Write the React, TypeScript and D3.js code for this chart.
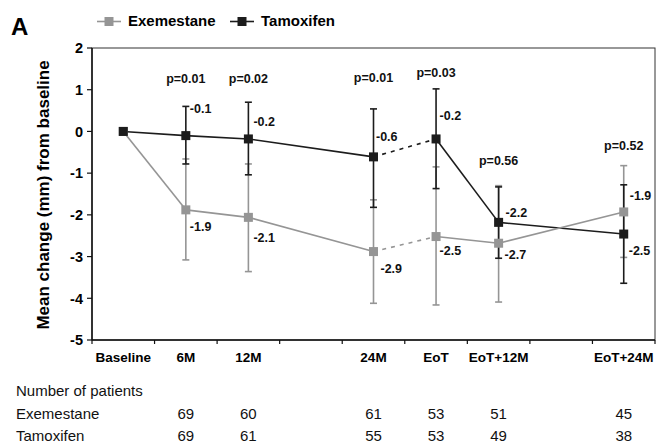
import React, { useRef, useEffect } from 'react';
import * as d3 from 'd3';

// x slots: two empty slots keep the uneven spacing of the original axis
const slots = ['Baseline', '6M', '12M', 'gap1', '24M', 'EoT', 'EoT+12M', 'gap2', 'EoT+24M'];
const timepoints = ['Baseline', '6M', '12M', '24M', 'EoT', 'EoT+12M', 'EoT+24M'];

const exemestaneMean = [0, -1.88, -2.06, -2.88, -2.52, -2.68, -1.93];
const exemestaneUpper = [null, -0.66, -0.78, -1.64, -0.85, -1.3, -0.82];
const exemestaneLower = [null, -3.08, -3.36, -4.12, -4.16, -4.09, -3.02];

const tamoxifenMean = [0, -0.1, -0.18, -0.61, -0.18, -2.18, -2.46];
const tamoxifenUpper = [null, 0.6, 0.7, 0.54, 1.02, -1.33, -1.28];
const tamoxifenLower = [null, -0.78, -1.04, -1.82, -1.37, -3.04, -3.64];

const pValues = ['', 'p=0.01', 'p=0.02', 'p=0.01', 'p=0.03', 'p=0.56', 'p=0.52'];

const yTicks = [2, 1, 0, -1, -2, -3, -4, -5];

// number of patients from 6M on
const countTimepoints = ['6M', '12M', '24M', 'EoT', 'EoT+12M', 'EoT+24M'];
const exemestaneN = [69, 60, 61, 53, 51, 45];
const tamoxifenN = [69, 61, 55, 53, 49, 38];

// label placement (px offsets from the marker), index matches timepoints
const exeLabelOffset = [null, [4, 21.5], [5, 24.5], [7, 21], [3.5, 18], [6, 16], [6, -12]];
const tamLabelOffset = [null, [4, -23], [5, -13], [2.5, -16], [3.5, -19], [7, -5], [5, 21]];
const pLabelDy = [0, -23, -19.5, -27, -12, -20.5, -15.5];

const GREY = '#959595';
const BLACK = '#1c1c1c';
const FONT = '"Liberation Sans", Arial, Helvetica, sans-serif';

const App = () => {
    const svgRef = useRef(null);
    const width = 657;
    const height = 442;

    useEffect(() => {
        const svg = d3.select(svgRef.current);
        svg.selectAll('*').remove();
        svg.style('font-family', FONT);

        const left = 92, right = 655, top = 48, bottom = 340;

        const x = d3.scaleBand().domain(slots).range([left, right]).padding(0);
        const cx = d => x(d) + x.bandwidth() / 2;
        const y = d3.scaleLinear().domain([-5, 2]).range([bottom, top]);

        // frame
        svg.append('rect')
            .attr('x', left).attr('y', top)
            .attr('width', right - left).attr('height', bottom - top)
            .attr('fill', 'none').attr('stroke', '#333').attr('stroke-width', 1);
        svg.append('line')
            .attr('x1', left).attr('x2', left).attr('y1', top).attr('y2', bottom)
            .attr('stroke', '#111').attr('stroke-width', 1.5);
        svg.append('line')
            .attr('x1', left).attr('x2', right).attr('y1', bottom).attr('y2', bottom)
            .attr('stroke', '#111').attr('stroke-width', 1.5);

        // y axis ticks + labels
        const yAxis = svg.append('g');
        yAxis.selectAll('line').data(yTicks).enter().append('line')
            .attr('x1', left - 5).attr('x2', left)
            .attr('y1', d => y(d)).attr('y2', d => y(d))
            .attr('stroke', '#111').attr('stroke-width', 1.2);
        yAxis.selectAll('text').data(yTicks).enter().append('text')
            .attr('x', left - 9).attr('y', d => y(d)).attr('dy', '0.36em')
            .attr('text-anchor', 'end')
            .style('font-size', '14.5px').style('font-weight', 'bold')
            .text(d => String(d));

        svg.append('text')
            .attr('transform', `translate(49,195) rotate(-90)`)
            .attr('text-anchor', 'middle')
            .style('font-size', '17px').style('font-weight', 'bold')
            .text('Mean change (mm) from baseline');

        // x axis ticks at slot boundaries
        const bounds = slots.map(s => x(s)).concat([right]);
        svg.append('g').selectAll('line').data(bounds).enter().append('line')
            .attr('x1', d => d).attr('x2', d => d)
            .attr('y1', bottom).attr('y2', bottom + 4)
            .attr('stroke', '#111').attr('stroke-width', 1.2);
        svg.append('g').selectAll('text').data(timepoints).enter().append('text')
            .attr('x', d => cx(d)).attr('y', 362)
            .attr('text-anchor', 'middle')
            .style('font-size', '13.5px').style('font-weight', 'bold')
            .text(d => d);

        const makeRows = (mean, upper, lower) => timepoints.map((t, i) => ({
            t, i, mean: mean[i], upper: upper[i], lower: lower[i]
        }));
        const exe = makeRows(exemestaneMean, exemestaneUpper, exemestaneLower);
        const tam = makeRows(tamoxifenMean, tamoxifenUpper, tamoxifenLower);

        // error bars: grey first, black on top
        const drawBars = (rows, color) => {
            const g = svg.append('g').attr('stroke', color).attr('stroke-width', 1.6);
            rows.filter(d => d.upper !== null).forEach(d => {
                const px = cx(d.t);
                g.append('line').attr('x1', px).attr('x2', px)
                    .attr('y1', y(d.upper)).attr('y2', y(d.lower));
                g.append('line').attr('x1', px - 3.5).attr('x2', px + 3.5)
                    .attr('y1', y(d.upper)).attr('y2', y(d.upper));
                g.append('line').attr('x1', px - 3.5).attr('x2', px + 3.5)
                    .attr('y1', y(d.lower)).attr('y2', y(d.lower));
            });
        };
        drawBars(exe, GREY);
        drawBars(tam, BLACK);

        // lines: 24M -> EoT is dashed
        const drawLines = (rows, color) => {
            const g = svg.append('g');
            for (let i = 1; i < rows.length; i++) {
                const a = rows[i - 1], b = rows[i];
                const dashed = a.t === '24M' && b.t === 'EoT';
                g.append('line')
                    .attr('x1', cx(a.t)).attr('y1', y(a.mean))
                    .attr('x2', cx(b.t)).attr('y2', y(b.mean))
                    .attr('stroke', color).attr('stroke-width', 1.6)
                    .attr('stroke-dasharray', dashed ? '4,5' : null);
            }
        };
        drawLines(tam, BLACK);
        drawLines(exe, GREY);

        const drawMarkers = (rows, color) => {
            svg.append('g').selectAll('rect').data(rows).enter().append('rect')
                .attr('x', d => cx(d.t) - 4.5).attr('y', d => y(d.mean) - 4.5)
                .attr('width', 9).attr('height', 9)
                .attr('fill', color);
        };
        drawMarkers(exe, GREY);
        drawMarkers(tam, BLACK);

        // value labels (plain hyphen as in the original)
        const fmt = v => v.toFixed(1);
        const drawLabels = (rows, offsets) => {
            svg.append('g').selectAll('text').data(rows.filter(d => offsets[d.i])).enter().append('text')
                .attr('x', d => cx(d.t) + offsets[d.i][0])
                .attr('y', d => y(d.mean) + offsets[d.i][1])
                .style('font-size', '12.5px').style('font-weight', 'bold')
                .attr('fill', '#111')
                .text(d => fmt(d.mean));
        };
        drawLabels(exe, exeLabelOffset);
        drawLabels(tam, tamLabelOffset);

        // p values above the higher error bar
        svg.append('g').selectAll('text').data(timepoints.filter((t, i) => pValues[i])).enter().append('text')
            .attr('x', t => cx(t))
            .attr('y', t => {
                const i = timepoints.indexOf(t);
                return y(Math.max(exe[i].upper, tam[i].upper)) + pLabelDy[i];
            })
            .attr('text-anchor', 'middle')
            .style('font-size', '12.5px').style('font-weight', 'bold')
            .attr('fill', '#111')
            .text(t => pValues[timepoints.indexOf(t)]);

        // panel letter + legend
        svg.append('text').attr('x', 11).attr('y', 35)
            .style('font-size', '24px').style('font-weight', 'bold').text('A');
        const legend = [
            { name: 'Exemestane', color: GREY, x: 97 },
            { name: 'Tamoxifen', color: BLACK, x: 230 }
        ];
        const lg = svg.append('g').selectAll('g').data(legend).enter().append('g')
            .attr('transform', d => `translate(${d.x},21.5)`);
        lg.append('line').attr('x1', 0).attr('x2', 24).attr('y1', 0).attr('y2', 0)
            .attr('stroke', d => d.color).attr('stroke-width', 1.6);
        lg.append('rect').attr('x', 7.5).attr('y', -4.5).attr('width', 9).attr('height', 9)
            .attr('fill', d => d.color);
        lg.append('text').attr('x', 31).attr('y', 4.5)
            .style('font-size', '15px').style('font-weight', 'bold')
            .text(d => d.name);

        // number of patients table
        const table = svg.append('g').style('font-size', '15px').attr('fill', '#111');
        table.append('text').attr('x', 16).attr('y', 396).text('Number of patients');
        table.append('text').attr('x', 16).attr('y', 418.5).text('Exemestane');
        table.append('text').attr('x', 16).attr('y', 440.5).text('Tamoxifen');
        table.selectAll('text.exe').data(exemestaneN).enter().append('text')
            .attr('class', 'exe')
            .attr('x', (d, i) => cx(countTimepoints[i])).attr('y', 418.5)
            .attr('text-anchor', 'middle').text(d => d);
        table.selectAll('text.tam').data(tamoxifenN).enter().append('text')
            .attr('class', 'tam')
            .attr('x', (d, i) => cx(countTimepoints[i])).attr('y', 440.5)
            .attr('text-anchor', 'middle').text(d => d);
    }, []);

    return (
        <svg ref={svgRef} width={width} height={height}
            style={{ position: 'absolute', left: 0, top: 0, background: '#fff' }} />
    );
};

export default App;
